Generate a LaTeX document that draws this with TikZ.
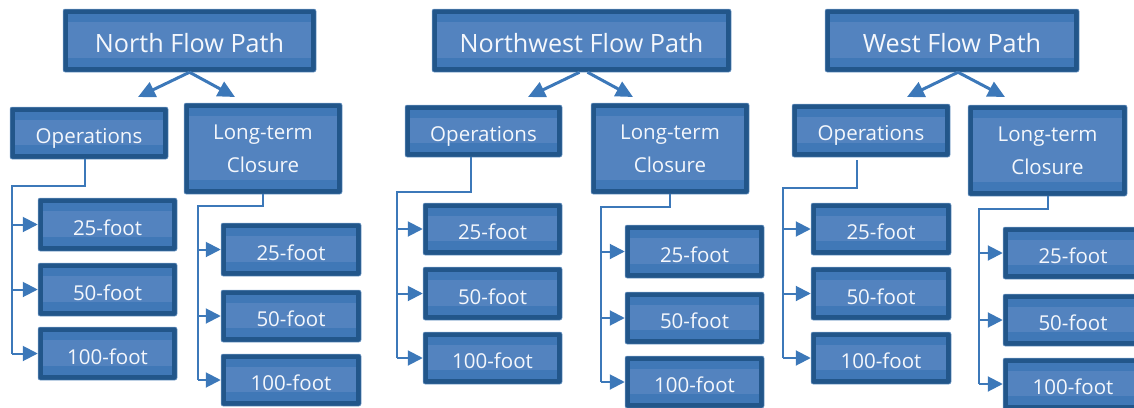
\documentclass[tikz,border=0pt]{standalone}
\usepackage{fontspec}
\setmainfont{Open Sans}
\usetikzlibrary{arrows.meta,calc}
\definecolor{fpborder}{RGB}{34,86,138}
\definecolor{fpedge}{RGB}{120,160,205}
\definecolor{fpdark}{RGB}{64,120,183}
\definecolor{fplight}{RGB}{83,131,191}
\definecolor{fpline}{RGB}{60,120,185}
\definecolor{fptxt}{RGB}{244,247,252}
\tikzset{
  fpnode/.style={rectangle, rounded corners=2pt, fill=fpborder, draw=fpedge, line width=0.5pt, inner sep=0pt},
  fptext/.style={text=fptxt, font=\fontsize{20.5}{33}\selectfont, align=center, inner sep=0pt, anchor=base},
  fptitle/.style={font=\fontsize{25.2}{30}\selectfont},
  conn/.style={draw=fpline, line width=2pt},
  arr/.style={conn, -{Triangle[length=15pt,width=15pt]}},
  toparr/.style={draw=fpline, line width=3pt, -{Triangle[length=17pt,width=16pt]}},
}
% \fpbox[text style]{name}{x1}{y1}{x2}{y2}{baseline offset of last line}{text}
\newcommand\fpbox[8][]{%
  \pgfmathsetmacro\fpcx{(#3+#5)/2}%
  \pgfmathsetmacro\fpcy{(#4+#6)/2}%
  \pgfmathsetmacro\fpw{#5-#3}%
  \pgfmathsetmacro\fph{#6-#4}%
  \node[fpnode, minimum width=\fpw pt, minimum height=\fph pt] (#2) at (\fpcx,\fpcy) {};
  \fill[fpdark] ([shift={(5pt,-5pt)}]#2.north west) rectangle ([shift={(-5pt,5pt)}]#2.south east);
  \fill[fplight] ([shift={(5pt,-13pt)}]#2.north west) rectangle ([shift={(-5pt,14pt)}]#2.south east);
  \node[fptext,#1] (#2-t) at ([yshift=-#7pt]#2.center) {#8};
}
\begin{document}
\begin{tikzpicture}[x=1pt,y=-1pt]
\useasboundingbox (0,0) rectangle (1134,407);
\clip (0,0) rectangle (1134,407);

% ===== North =====
\fpbox[fptitle]{nT}{63}{9}{316}{72}{11.5}{North Flow Path}
\fpbox{nO}{10}{107}{168}{159}{10}{Operations}
\fpbox{nL}{184}{103}{342}{194}{23.5}{Long-term\\Closure}
\fpbox{nO1}{38}{198}{177}{251}{10.5}{25-foot}
\fpbox{nO2}{38}{263}{177}{316}{10.5}{50-foot}
\fpbox{nO3}{38}{327}{177}{380}{10.5}{100-foot}
\fpbox{nL1}{221}{223}{361}{276}{10.5}{25-foot}
\fpbox{nL2}{221}{290}{361}{342}{10.5}{50-foot}
\fpbox{nL3}{221}{354}{361}{406}{10.5}{100-foot}
\coordinate (nOa) at (138,97);
\coordinate (nLa) at (235,97);
\draw[toparr] (nT.south) -- (nOa);
\draw[toparr] (nT.south) -- (nLa);
\coordinate (nOk) at (12,186);
\draw[conn] ([xshift=-4pt]nO.south) |- (nOk) -- (nO3.west -| nOk);
\foreach \c in {nO1,nO2,nO3} \draw[arr] (\c.west -| nOk) -- (\c.west);
\coordinate (nLk) at (198,206);
\draw[conn] (nL.south) |- (nLk) -- (nL3.west -| nLk);
\foreach \c in {nL1,nL2,nL3} \draw[arr] (\c.west -| nLk) -- (\c.west);

% ===== Northwest =====
\fpbox[fptitle]{wT}{432}{9}{731}{72}{11.5}{Northwest Flow Path}
\fpbox{wO}{405}{105}{562}{157}{10}{Operations}
\fpbox{wL}{591}{103}{749}{194}{23.5}{Long-term\\Closure}
\fpbox{wO1}{423}{203}{562}{255}{10.5}{25-foot}
\fpbox{wO2}{423}{267}{562}{320}{10.5}{50-foot}
\fpbox{wO3}{423}{332}{562}{384}{10.5}{100-foot}
\fpbox{wL1}{625}{225}{764}{278}{10.5}{25-foot}
\fpbox{wL2}{625}{292}{764}{344}{10.5}{50-foot}
\fpbox{wL3}{625}{356}{764}{408}{10.5}{100-foot}
\coordinate (wOa) at (528,97);
\coordinate (wLa) at (633,97);
\draw[toparr] ([xshift=-2pt]wT.south) -- (wOa);
\draw[toparr] ([xshift=6pt]wT.south) -- (wLa);
\coordinate (wOk) at (397,192);
\draw[conn] ([xshift=-13pt]wO.south) |- (wOk) -- (wO3.west -| wOk);
\foreach \c in {wO1,wO2,wO3} \draw[arr] (\c.west -| wOk) -- (\c.west);
\coordinate (wLk) at (601,207);
\draw[conn] (wL.south) |- (wLk) -- (wL3.west -| wLk);
\foreach \c in {wL1,wL2,wL3} \draw[arr] (\c.west -| wLk) -- (\c.west);

% ===== West =====
\fpbox[fptitle]{sT}{825}{9}{1079}{72}{11.5}{West Flow Path}
\fpbox{sO}{792}{104}{950}{157}{10}{Operations}
\fpbox{sL}{968}{105}{1127}{196}{23.5}{Long-term\\Closure}
\fpbox{sO1}{811}{203}{951}{255}{10.5}{25-foot}
\fpbox{sO2}{811}{267}{951}{320}{10.5}{50-foot}
\fpbox{sO3}{811}{332}{951}{384}{10.5}{100-foot}
\fpbox{sL1}{1003}{227}{1143}{279}{10.5}{25-foot}
\fpbox{sL2}{1003}{294}{1143}{346}{10.5}{50-foot}
\fpbox{sL3}{1003}{358}{1143}{410}{10.5}{100-foot}
\coordinate (sOa) at (907,97);
\coordinate (sLa) at (1005,97);
\draw[toparr] ([xshift=6pt]sT.south) -- (sOa);
\draw[toparr] ([xshift=6pt]sT.south) -- (sLa);
\coordinate (sOk) at (783,188);
\draw[conn] ([xshift=-14pt,yshift=-3pt]sO.south) |- (sOk) -- (sO3.west -| sOk);
\foreach \c in {sO1,sO2,sO3} \draw[arr] (\c.west -| sOk) -- (\c.west);
\coordinate (sLk) at (979,209);
\draw[conn] (sL.south) |- (sLk) -- (sL3.west -| sLk);
\foreach \c in {sL1,sL2,sL3} \draw[arr] (\c.west -| sLk) -- (\c.west);
\end{tikzpicture}
\end{document}
